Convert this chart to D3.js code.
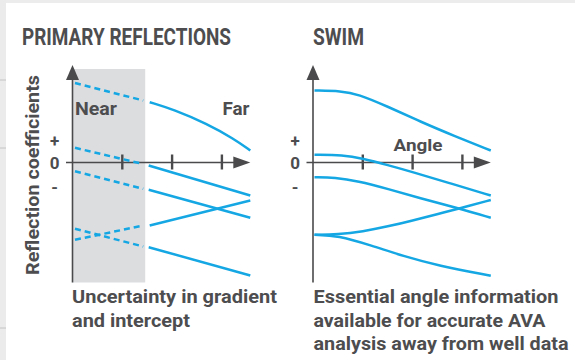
<!DOCTYPE html>
<html>
<head>
<meta charset="utf-8">
<script src="https://cdn.jsdelivr.net/npm/d3@7"></script>
<style>
  body { margin: 0; background: #fff; }
  svg text { font-family: Roboto, "Open Sans", sans-serif; font-weight: 700; fill: #4d4d4f; }
</style>
</head>
<body>
<div id="wrapper"></div>
<script>
// angle tick positions on the x axis
const angleTicks = [1, 2, 3]
// sign labels on the y axis
const signLabels = [
  {sign: "+", value: 2.2},
  {sign: "0", value: 0},
  {sign: "-", value: -2.4},
]
// near offsets (grey zone) end at this angle
const nearLimit = 1.46

// PRIMARY REFLECTIONS : [angle, reflection coefficient]
const primaryDashed = [
  [[0.05, 7.95], [1.42, 6.2]],
  [[0.05, 1.47], [1.40, -0.13]],
  [[0.05, -0.87], [1.42, -2.63]],
  [[0.05, -6.63], [1.42, -8.4]],
  [[0.05, -7.73], [1.42, -6.3]],
]
const primarySolid = [
  [[1.55, 6.03], [2.03, 5.3], [2.70, 3.87], [3.24, 2.37], [3.57, 1.2]],
  [[1.53, -0.3], [3.57, -3.3]],
  [[1.53, -2.73], [3.57, -5.53]],
  [[1.53, -8.47], [3.57, -11.3]],
  [[1.55, -6.3], [3.57, -3.8]],
]

// SWIM : [angle, reflection coefficient]
const swimLines = [
  [[0.03, 7.2], [0.57, 7.15], [0.9, 6.85], [1.5, 5.6], [2.17, 4.05], [2.84, 2.65], [3.57, 1.2]],
  [[0.03, 0.77], [0.6, 0.75], [1.0, 0.4], [1.5, -0.25], [2.0, -0.95], [2.8, -2.15], [3.57, -3.3]],
  [[0.03, -1.47], [0.44, -1.5], [0.9, -1.85], [1.5, -2.63], [2.17, -3.6], [2.9, -4.55], [3.57, -5.53]],
  [[0.03, -7.23], [0.5, -7.2], [1.0, -6.9], [1.5, -6.4], [2.0, -5.8], [2.5, -5.15], [2.94, -4.6], [3.57, -3.75]],
  [[0.03, -7.23], [0.5, -7.3], [1.17, -8.3], [1.84, -9.4], [2.5, -10.3], [3.57, -11.33]],
]

const dimensions = { width: 575, height: 360 }
const blue = "#14a7e4"
const axisColor = "#4a4a4c"

const svg = d3.select("#wrapper")
  .append("svg")
    .attr("width", dimensions.width)
    .attr("height", dimensions.height)

// page frame (grey strips from the source page)
svg.append("rect").attr("width", dimensions.width).attr("height", 3).attr("fill", "#ececec")
svg.append("rect").attr("width", 6).attr("height", dimensions.height).attr("fill", "#ebebeb")
;[80, 148, 328].forEach(yy => {
  svg.append("line").attr("x1", 0).attr("x2", 6).attr("y1", yy).attr("y2", yy)
    .attr("stroke", "#c4c4c4").attr("stroke-width", 1)
})

const xScale = d3.scaleLinear().domain([0, 1]).range([0, 49.8])
const yScale = d3.scaleLinear().domain([-12, 10]).range([282.5, 62.5])

const fit = (sel, w) => sel.attr("textLength", w).attr("lengthAdjust", "spacingAndGlyphs")

function drawPanel(left, opts) {
  const g = svg.append("g").attr("transform", `translate(${left},0)`)
  const x0 = xScale(0), y0 = yScale(0)
  const xEnd = xScale(3.57)

  if (opts.near) {
    g.append("rect")
      .attr("x", x0)
      .attr("y", yScale(9.35))
      .attr("width", xScale(nearLimit) - x0)
      .attr("height", yScale(-12) - yScale(9.35))
      .attr("fill", "#dcdddf")
  }

  // y axis + arrow
  g.append("line").attr("x1", x0).attr("x2", x0).attr("y1", yScale(8.5)).attr("y2", yScale(-12))
    .attr("stroke", axisColor).attr("stroke-width", 1.6)
  g.append("path")
    .attr("d", `M${x0 - 6.5},${yScale(9.75) + 15} L${x0},${yScale(9.75)} L${x0 + 6.5},${yScale(9.75) + 15} Z`)
    .attr("fill", axisColor)

  // x axis + arrow
  g.append("line").attr("x1", x0 - 6.5).attr("x2", xEnd - 10).attr("y1", y0).attr("y2", y0)
    .attr("stroke", axisColor).attr("stroke-width", 1.6)
  g.append("path")
    .attr("d", `M${xEnd - 17},${y0 - 6} L${xEnd},${y0} L${xEnd - 17},${y0 + 6} Z`)
    .attr("fill", axisColor)

  g.selectAll(".tick").data(angleTicks).join("line")
    .attr("x1", d => xScale(d)).attr("x2", d => xScale(d))
    .attr("y1", y0 - 8).attr("y2", y0 + 7)
    .attr("stroke", axisColor).attr("stroke-width", 2.4)

  g.selectAll(".sign").data(signLabels).join("text")
    .attr("x", x0 - 18)
    .attr("y", d => yScale(d.value))
    .attr("text-anchor", "middle")
    .attr("dominant-baseline", "central")
    .style("font-size", "17px")
    .text(d => d.sign)

  const line = d3.line().x(d => xScale(d[0])).y(d => yScale(d[1]))

  if (opts.dashed) {
    g.selectAll(".dash").data(opts.dashed).join("path")
      .attr("d", line)
      .attr("fill", "none").attr("stroke", blue).attr("stroke-width", 2.5)
      .attr("stroke-dasharray", "6,4")
  }
  g.selectAll(".solid").data(opts.solid).join("path")
    .attr("d", line.curve(d3.curveBasis))
    .attr("fill", "none").attr("stroke", blue).attr("stroke-width", 2.5)

  return g
}

const left = drawPanel(72.5, {near: true, dashed: primaryDashed, solid: primarySolid})
const right = drawPanel(313, {solid: swimLines})

// titles
fit(svg.append("text").attr("x", 22).attr("y", 45).style("font-size", "23px").text("PRIMARY REFLECTIONS"), 209)
fit(svg.append("text").attr("x", 313).attr("y", 45).style("font-size", "23px").text("SWIM"), 51)

// in-plot labels
fit(svg.append("text").attr("x", 75).attr("y", 115).style("font-size", "18px").text("Near"), 42)
fit(svg.append("text").attr("x", 222.5).attr("y", 115).style("font-size", "18px").text("Far"), 27)
fit(svg.append("text").attr("x", 393.5).attr("y", 150.5).style("font-size", "17px").text("Angle"), 49)

// y axis title
fit(svg.append("text")
  .attr("transform", "translate(39,175) rotate(-90)")
  .attr("text-anchor", "middle")
  .style("font-size", "19px")
  .text("Reflection coefficients"), 200)

// captions
const captions = [
  {x: 72, y: 302.5, w: 205, t: "Uncertainty in gradient"},
  {x: 72, y: 326.5, w: 118, t: "and intercept"},
  {x: 313.5, y: 303, w: 245, t: "Essential angle information"},
  {x: 313.5, y: 326.5, w: 232, t: "available for accurate AVA"},
  {x: 313.5, y: 350, w: 255, t: "analysis away from well data"},
]
captions.forEach(c => {
  fit(svg.append("text").attr("x", c.x).attr("y", c.y).style("font-size", "19px").text(c.t), c.w)
})
</script>
</body>
</html>
